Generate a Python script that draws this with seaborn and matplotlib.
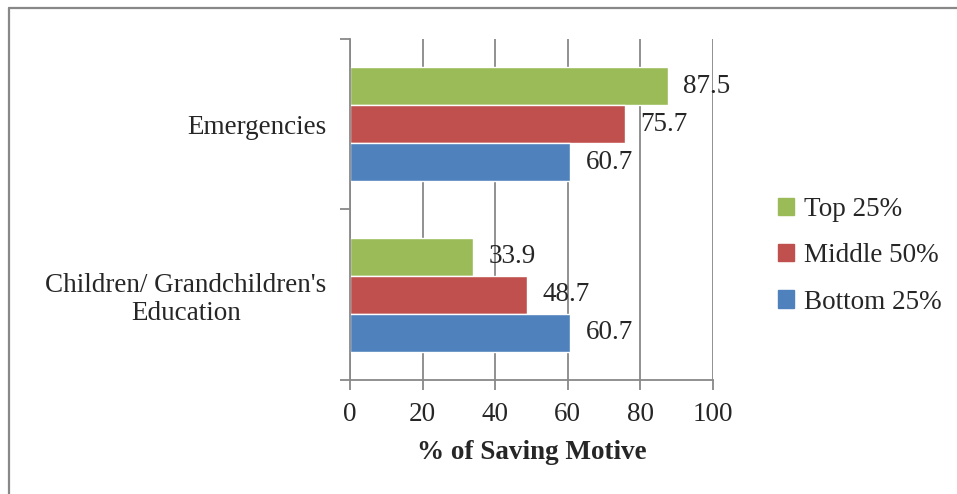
import pandas as pd
import matplotlib.pyplot as plt
import seaborn as sns
from matplotlib.lines import Line2D

# values
motives = ["Emergencies", "Children/ Grandchildren's\nEducation"]
groups = ["Top 25%", "Middle 50%", "Bottom 25%"]
top_25 = [87.5, 33.9]
middle_50 = [75.7, 48.7]
bottom_25 = [60.7, 60.7]
colors = ["#9BBB59", "#C0504D", "#4F81BD"]

df = pd.DataFrame({
    "Motive": motives * 3,
    "Group": [g for g in groups for _ in motives],
    "Value": top_25 + middle_50 + bottom_25,
})

sns.set_style("white")
plt.rcParams["font.family"] = ["Liberation Serif", "DejaVu Serif"]
fs = 19.5

fig = plt.figure(figsize=(9.57, 4.94), dpi=100)
ax = fig.add_axes([0.3657, 0.2308, 0.3793, 0.6903])

sns.barplot(data=df, y="Motive", x="Value", hue="Group", order=motives,
            hue_order=groups, palette=colors, orient="h", width=0.667,
            saturation=1, ax=ax, legend=False)

for cont in ax.containers:
    ax.bar_label(cont, fmt="%.1f", padding=11, fontsize=fs)

ax.set_xlim(0, 100)
ax.set_ylim(1.5, -0.5)
ax.set_xticks([0, 20, 40, 60, 80, 100])
ax.set_xticklabels(["0", "20", "40", "60", "80", "100"], fontsize=fs)
ax.set_yticks([-0.5, 0.5, 1.5])
ax.set_yticklabels(["", "", ""])
ax.set_yticks([0, 1], minor=True)
ax.set_yticklabels(motives, minor=True, fontsize=fs, multialignment="center",
                   linespacing=1.15)
ax.tick_params(axis="y", which="major", direction="out", length=7, color="#888888", width=1.3, left=True)
ax.tick_params(axis="y", which="minor", length=0, pad=17)
ax.tick_params(axis="x", direction="out", length=7, color="#888888", width=1.3, bottom=True, pad=9)
ax.grid(axis="x", color="#888888", linewidth=1.3)
ax.set_axisbelow(True)
ax.set_ylabel("")
ax.set_xlabel("% of Saving Motive", fontsize=fs, fontweight="bold", labelpad=9)
for s in ["top", "right"]:
    ax.spines[s].set_visible(False)
for s in ["left", "bottom"]:
    ax.spines[s].set_color("#888888")
    ax.spines[s].set_linewidth(1.3)

handles = [plt.Rectangle((0, 0), 1, 1, color=c) for c in colors]
fig.legend(handles, groups, loc="center left", bbox_to_anchor=(0.799, 0.482),
           frameon=False, fontsize=fs, handlelength=0.6, handleheight=0.6,
           handletextpad=0.35, labelspacing=0.78, borderpad=0)

# outer chart frame (left and top edges only visible)
fig.add_artist(Line2D([0.0094, 0.0094], [0, 0.983], color="#888888", linewidth=1.6))
fig.add_artist(Line2D([0.0094, 1.0], [0.983, 0.983], color="#888888", linewidth=1.6))

fig.savefig("out.png", dpi=100)
